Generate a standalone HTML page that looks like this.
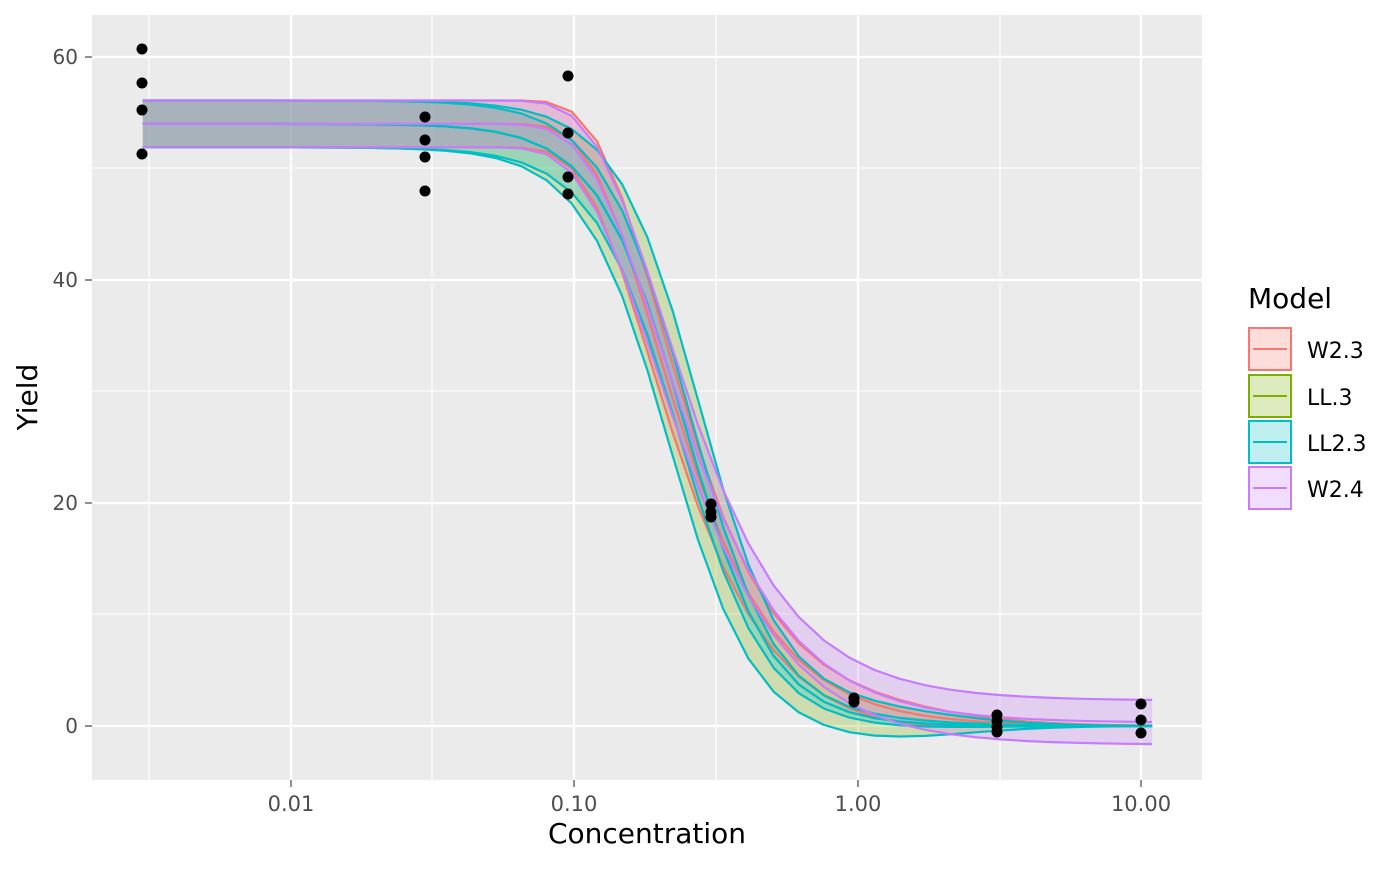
<!DOCTYPE html>
<html><head><meta charset="utf-8"><style>
html,body{margin:0;padding:0;background:#fff;}
svg text{font-family:"DejaVu Sans","Liberation Sans",sans-serif;}
</style></head><body>
<svg id="s" width="1400" height="865" xmlns="http://www.w3.org/2000/svg">
<rect x="0" y="0" width="1400" height="865" fill="#fff"/>
<rect x="92" y="15" width="1110" height="765" fill="#EBEBEB"/>
<g stroke="#fff" stroke-width="1.1">
<line x1="92" x2="1202" y1="614" y2="614"/><line x1="92" x2="1202" y1="391" y2="391"/><line x1="92" x2="1202" y1="168" y2="168"/>
<line y1="15" y2="780" x1="149" x2="149"/><line y1="15" y2="780" x1="432" x2="432"/><line y1="15" y2="780" x1="716" x2="716"/><line y1="15" y2="780" x1="1000" x2="1000"/>
</g>
<g stroke="#fff" stroke-width="2.2">
<line x1="92" x2="1202" y1="726" y2="726"/><line x1="92" x2="1202" y1="503" y2="503"/><line x1="92" x2="1202" y1="280" y2="280"/><line x1="92" x2="1202" y1="57" y2="57"/>
<line y1="15" y2="780" x1="291" x2="291"/><line y1="15" y2="780" x1="574" x2="574"/><line y1="15" y2="780" x1="858" x2="858"/><line y1="15" y2="780" x1="1141" x2="1141"/>
</g>
<g id="curves"></g>
<g id="pts" fill="#000"></g>
<g font-size="20" fill="#4D4D4D" text-anchor="end">
<text x="78" y="733">0</text><text x="78" y="510">20</text><text x="78" y="287">40</text><text x="78" y="64">60</text>
</g>
<g stroke="#333" stroke-width="1.1">
<line x1="85" x2="92" y1="726" y2="726"/><line x1="85" x2="92" y1="503" y2="503"/><line x1="85" x2="92" y1="280" y2="280"/><line x1="85" x2="92" y1="57" y2="57"/>
<line y1="780" y2="787" x1="291" x2="291"/><line y1="780" y2="787" x1="574" x2="574"/><line y1="780" y2="787" x1="858" x2="858"/><line y1="780" y2="787" x1="1141" x2="1141"/>
</g>
<g font-size="21" fill="#4D4D4D" text-anchor="middle">
<text x="291" y="811">0.01</text><text x="574" y="811">0.10</text><text x="858" y="811">1.00</text><text x="1141" y="811">10.00</text>
</g>
<text x="647" y="843" font-size="28" text-anchor="middle" fill="#000">Concentration</text>
<text transform="translate(37,397) rotate(-90)" font-size="28" text-anchor="middle" fill="#000">Yield</text>
<text x="1248" y="308" font-size="28" fill="#000">Model</text>
<g id="leg"></g>
</svg>
<script>
var NS="http://www.w3.org/2000/svg";
function X(x){return 291+(Math.log10(x)+2)*283.5;}
function Y(y){return 726-y*11.15;}
var d=54;
function W2(b,e,c){return function(x){return c+(d-c)*(1-Math.exp(-Math.exp(b*(Math.log(x)-Math.log(e)))));};}
function LL(b,e){return function(x){return d/(1+Math.pow(x/e,b));};}
function bump(x){var l=Math.log(x);return Math.exp(-(l*l)/1.2);}
var models=[
 {col:"#F8766D",f:W2(-1.866,0.195,0),k:0.05,t:function(x,f){return 0.9*bump(x);}},
 {col:"#7CAE00",lc:"#00BFC4",f:LL(2.81,0.245),k:0.14,t:function(x,f){return 1.3*bump(x)*(1-f/d);}},
 {col:"#00BFC4",f:LL(2.81,0.245),k:0.04,t:function(x,f){return 0.3*bump(x);}},
 {col:"#C77CFF",f:W2(-1.7,0.2,0.3),k:0.05,t:function(x,f){var r=1-f/d;return 2*r*r*r;}}
];
var g=document.getElementById("curves");
var N=40,xs=[];
for(var i=0;i<=N;i++){xs.push(Math.pow(10,Math.log10(0.003)+i*(Math.log10(10.9)-Math.log10(0.003))/N));}
function el(n,a){var e=document.createElementNS(NS,n);for(var k in a)e.setAttribute(k,a[k]);return e;}
models.forEach(function(m){
 var up=[],lo=[],mid=[];
 xs.forEach(function(x){
  var f=m.f(x),h=1e-4,s=Math.abs((m.f(x*Math.exp(h))-m.f(x*Math.exp(-h)))/(2*h));
  var w=2.1*f/d+m.k*s+m.t(x,f);
  up.push([X(x),Y(f+w)]);lo.push([X(x),Y(f-w)]);mid.push([X(x),Y(f)]);
 });
 m.up=up;m.lo=lo;m.mid=mid;
});
function ps(a){return a.map(function(p){return p[0].toFixed(1)+","+p[1].toFixed(1);}).join(" ");}
models.forEach(function(m){
 g.appendChild(el("polygon",{points:ps(m.up.concat(m.lo.slice().reverse())),fill:m.col,"fill-opacity":0.25,stroke:"none"}));
});
models.forEach(function(m){
 var c=m.lc||m.col;
 [m.up,m.lo,m.mid].forEach(function(a){g.appendChild(el("polyline",{points:ps(a),fill:"none",stroke:c,"stroke-width":2.2,"stroke-linejoin":"round"}));});
});
var P=[[142,49],[142,83],[142,110],[142,154],[425,117],[425,140],[425,157],[425,191],[568,76],[568,133],[568,177],[568,194],[711,504],[711,512],[711,517],[854,698],[854,702],[997,715],[997,721],[997,727],[997,732],[1141,704],[1141,720],[1141,733]];
var pg=document.getElementById("pts");
P.forEach(function(p){pg.appendChild(el("circle",{cx:p[0],cy:p[1],r:5.5}));});
var lg=document.getElementById("leg"),names=["W2.3","LL.3","LL2.3","W2.4"],ys=[327,374,420,466];
models.forEach(function(m,i){
 var y=ys[i];
 lg.appendChild(el("rect",{x:1248,y:y,width:44,height:44,fill:"#fff"}));
 lg.appendChild(el("rect",{x:1249,y:y+1,width:42,height:42,fill:m.col,"fill-opacity":0.25,stroke:m.col,"stroke-width":2}));
 lg.appendChild(el("line",{x1:1253,x2:1287,y1:y+22,y2:y+22,stroke:m.col,"stroke-width":2}));
 var t=el("text",{x:1307,y:y+31,"font-size":22,fill:"#000"});t.textContent=names[i];lg.appendChild(t);
});
</script>
</body></html>
